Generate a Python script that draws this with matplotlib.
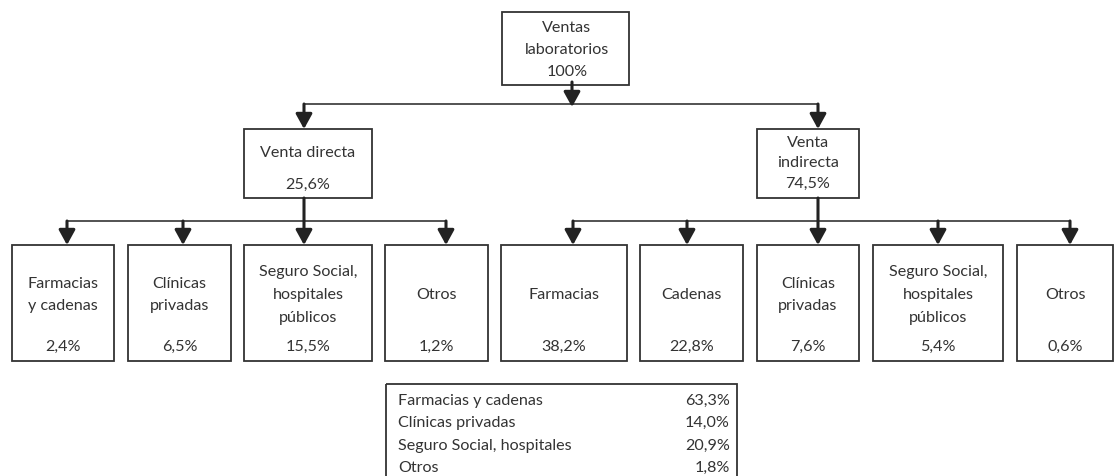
import matplotlib.pyplot as plt
from matplotlib.patches import Rectangle

# data
top_label = ['Ventas', 'laboratorios', '100%']
mid_labels = [['Venta directa', '', '25,6%'], ['Venta', 'indirecta', '74,5%']]
leaf_names = ['Farmacias\ny cadenas', 'Clínicas\nprivadas', 'Seguro Social,\nhospitales\npúblicos', 'Otros',
              'Farmacias', 'Cadenas', 'Clínicas\nprivadas', 'Seguro Social,\nhospitales\npúblicos', 'Otros']
leaf_values = ['2,4%', '6,5%', '15,5%', '1,2%', '38,2%', '22,8%', '7,6%', '5,4%', '0,6%']
table_names = ['Farmacias y cadenas', 'Clínicas privadas', 'Seguro Social, hospitales', 'Otros']
table_values = ['63,3%', '14,0%', '20,9%', '1,8%']

# layout (pixels)
leaf_x = [(12, 114), (128, 231), (244, 372), (385, 488), (501, 627),
          (640, 743), (757, 859), (873, 1003), (1017, 1113)]
leaf_arrow_x = [67, 183, 304, 446, 573, 687, 818, 938, 1070]

plt.rcParams['font.family'] = ['Lato', 'DejaVu Sans']
fs = 11.6
tc = '#333333'
ec = '#333333'

fig = plt.figure(figsize=(11.14, 4.76), dpi=100)
ax = fig.add_axes([0, 0, 1, 1])
ax.set_xlim(0, 1114)
ax.set_ylim(476, 0)
ax.axis('off')


def box(x0, x1, y0, y1):
    ax.add_patch(Rectangle((x0, y0), x1 - x0, y1 - y0, fill=False, ec=ec, lw=1.3))


def arrow(x, y0, y1):
    ax.annotate('', xy=(x, y1), xytext=(x, y0),
                arrowprops=dict(arrowstyle='-|>,head_length=0.6,head_width=0.33',
                                lw=2.2, color='#222222', mutation_scale=15,
                                shrinkA=0, shrinkB=0))


def hline(x0, x1, y):
    ax.plot([x0, x1], [y, y], color='#444444', lw=1.3, solid_capstyle='butt')


# top box
box(502, 629, 12, 85)
for t, y in zip(top_label, [28, 50, 72]):
    ax.text(567, y, t, ha='center', va='center', fontsize=fs, color=tc)

# first level
arrow(572, 82, 107)
hline(304, 818, 104)
arrow(304, 104, 129)
arrow(818, 104, 129)

box(244, 372, 129, 198)
ax.text(308, 153, mid_labels[0][0], ha='center', va='center', fontsize=fs, color=tc)
ax.text(308, 185, mid_labels[0][2], ha='center', va='center', fontsize=fs, color=tc)

box(757, 859, 129, 198)
for t, y in zip(mid_labels[1], [143, 163, 184]):
    ax.text(808, y, t, ha='center', va='center', fontsize=fs, color=tc)

# second level
hline(67, 446, 221)
hline(573, 1070, 221)
for x in leaf_arrow_x:
    y0 = 198 if x in (304, 818) else 221
    arrow(x, y0, 245)

for (x0, x1), name, val in zip(leaf_x, leaf_names, leaf_values):
    box(x0, x1, 245, 361)
    cx = (x0 + x1) / 2
    ax.text(cx, 295, name, ha='center', va='center', fontsize=fs, color=tc, linespacing=1.8)
    ax.text(cx, 347, val, ha='center', va='center', fontsize=fs, color=tc)

# summary table
box(386, 737, 384, 490)
for i, (n, v) in enumerate(zip(table_names, table_values)):
    y = 401 + i * 22.3
    ax.text(398, y, n, ha='left', va='center', fontsize=fs, color=tc)
    ax.text(730, y, v, ha='right', va='center', fontsize=fs, color=tc)

fig.savefig('out.png', dpi=100, facecolor='white')
